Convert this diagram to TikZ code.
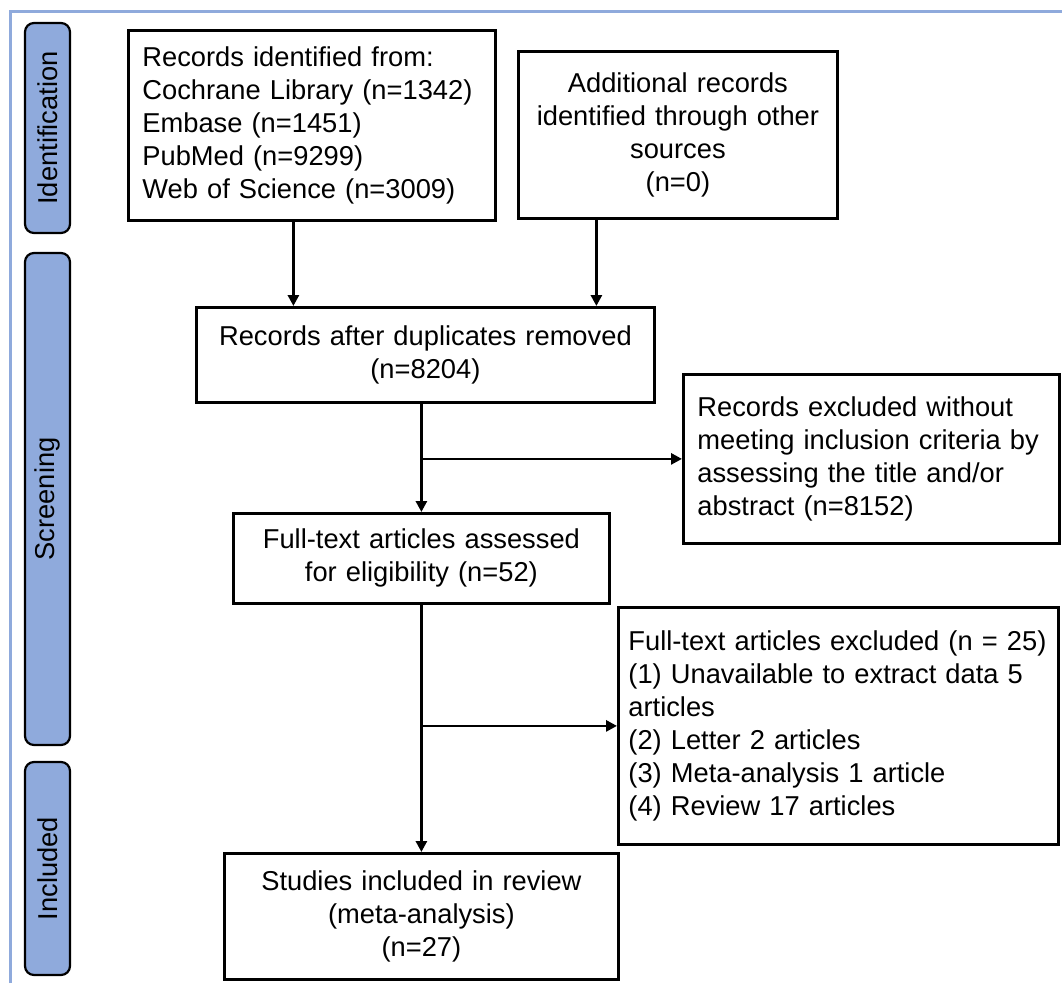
\documentclass[tikz,border=0pt]{standalone}
\usepackage{fontspec}
\setmainfont{Liberation Sans}
\usetikzlibrary{arrows.meta}
\definecolor{phaseblue}{RGB}{143,170,220}

\begin{document}
\begin{tikzpicture}[x=1pt, y=-1pt,
        box/.style={draw, line width=2.8pt, anchor=north west, inner xsep=14pt, inner ysep=0pt, font=\fontsize{27.3}{33}\selectfont},
        phase/.style={draw, line width=2.2pt, fill=phaseblue, rounded corners=9pt, rotate=90, minimum height=45pt, inner sep=0pt, font=\fontsize{27.3}{33}\selectfont},
        arr/.style={line width=2.8pt, -{Triangle[length=11pt, width=11pt]}}]
        % Page and frame
        \useasboundingbox (0,0) rectangle (1062,983);
        \draw[phaseblue, line width=3pt] (10,983) -- (10,11) -- (1062,11);
        % Draw phase labels
        \node[phase, minimum width=210pt] (identification) at (47.5,128) {Identification};
        \node[phase, minimum width=492pt] (screening) at (47.5,499) {Screening};
        \node[phase, minimum width=213pt] (included) at (47.5,868.5) {Included};
        % Draw boxes
        \node[box, text width=339pt, align=left, minimum height=190pt] (records) at (127,29)
            {Records identified from:\\ Cochrane Library (n=1342)\\ Embase (n=1451)\\ PubMed (n=9299)\\ Web of Science (n=3009)};
        \node[box, text width=291pt, align=center, minimum height=167pt] (additional) at (517,50)
            {Additional records\\ identified through other\\ sources\\ (n=0)};
        \node[box, text width=430pt, align=center, minimum height=95pt] (duplicates) at (195,306)
            {Records after duplicates removed\\ (n=8204)};
        \node[box, text width=348pt, align=left, minimum height=169pt] (excluded) at (682,373)
            {Records excluded without\\ meeting inclusion criteria by\\ assessing the title and/or\\ abstract (n=8152)};
        \node[box, text width=348pt, align=center, minimum height=90pt] (fulltext) at (232,512)
            {Full-text articles assessed\\ for eligibility (n=52)};
        \node[box, text width=420pt, inner xsep=10pt, align=left, minimum height=237pt] (ftexcluded) at (617,606)
            {Full-text articles excluded (n~=~25)\\ (1) Unavailable to extract data 5\\ articles\\ (2) Letter 2 articles\\ (3) Meta-analysis 1 article\\ (4) Review 17 articles};
        \node[box, text width=366pt, align=center, minimum height=126pt] (studies) at (223,852)
            {Studies included in review\\ (meta-analysis)\\ (n=27)};
        % Draw arrows
        \draw[arr] ([xshift=-18.5pt]records.south) -- ([xshift=-18.5pt]records.south |- duplicates.north);
        \draw[arr] ([xshift=-81.5pt]additional.south) -- ([xshift=-81.5pt]additional.south |- duplicates.north);
        \draw[arr] (fulltext.north |- duplicates.south) -- (fulltext.north);
        \draw[arr] (fulltext.north |- excluded.west) -- (excluded.west);
        \draw[arr] (fulltext.south) -- (studies.north);
        \draw[arr] (studies.north |- ftexcluded.west) -- (ftexcluded.west);
    \end{tikzpicture}
\end{document}
